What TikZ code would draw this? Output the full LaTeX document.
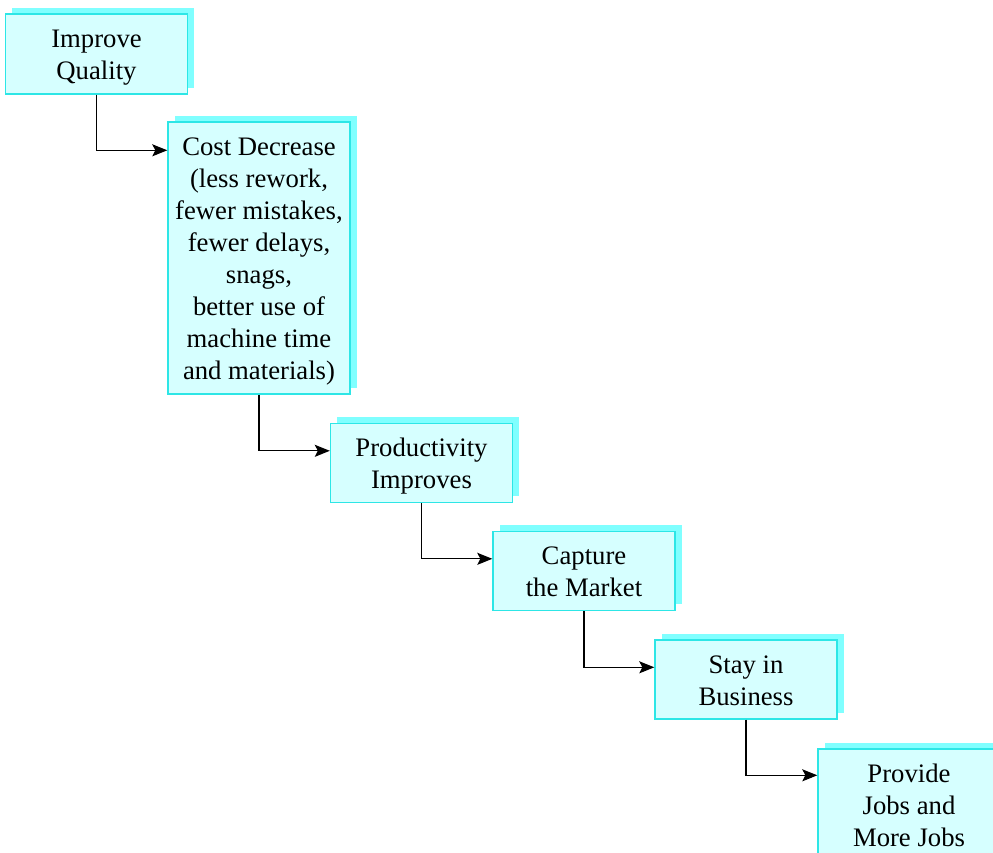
\documentclass[tikz,border=0pt]{standalone}
\usepackage{fontspec}
\setmainfont{Liberation Serif}
\usetikzlibrary{arrows.meta,shadows}
\definecolor{boxfill}{RGB}{214,255,255}
\definecolor{boxline}{RGB}{45,230,230}
\definecolor{boxshade}{RGB}{128,255,255}
% centred lines, set a little below the optical middle of the box
\newcommand{\boxlines}[1]{\raisebox{-3.5pt}[\height][\depth]{\begin{tabular}{@{}c@{}}#1\end{tabular}}}
\begin{document}
\begin{tikzpicture}[x=1pt,y=-1pt,
  stagebox/.style={draw=boxline, line width=1.4pt, fill=boxfill,
    minimum width=182pt, inner sep=0pt,
    font=\fontsize{26.7pt}{32pt}\selectfont,
    drop shadow={shadow xshift=6.5pt, shadow yshift=6.5pt,
      fill=boxshade, opacity=1}},
  conn/.style={draw=black, line width=1.1pt,
    -{Stealth[length=15pt,width=12pt,inset=3pt]}}]
\useasboundingbox (0,0) rectangle (993,852);

\node[stagebox, minimum height=80pt] (quality) at (96.5,54) {\boxlines{Improve\\Quality}};
\node[stagebox, minimum height=272pt] (cost) at (259,258)
  {\boxlines{Cost Decrease\\(less rework,\\fewer mistakes,\\fewer delays,\\snags,\\better use of\\machine time\\and materials)}};
\node[stagebox, minimum height=79pt] (prod) at (421.5,463) {\boxlines{Productivity\\Improves}};
\node[stagebox, minimum height=79pt] (market) at (584,571) {\boxlines{Capture\\the Market}};
\node[stagebox, minimum height=79pt] (stay) at (746,679.5) {\boxlines{Stay in\\Business}};
\node[stagebox, minimum height=112pt] (jobs) at (909,805) {\boxlines{Provide\\Jobs and\\More Jobs}};

\draw[conn] (quality.south) |- ([yshift=-29pt]cost.north west);
\draw[conn] (cost.south) |- ([yshift=-28pt]prod.north west);
\draw[conn] (prod.south) |- ([yshift=-28pt]market.north west);
\draw[conn] (market.south) |- ([yshift=-28pt]stay.north west);
\draw[conn] (stay.south) |- ([yshift=-27pt]jobs.north west);
\end{tikzpicture}
\end{document}
